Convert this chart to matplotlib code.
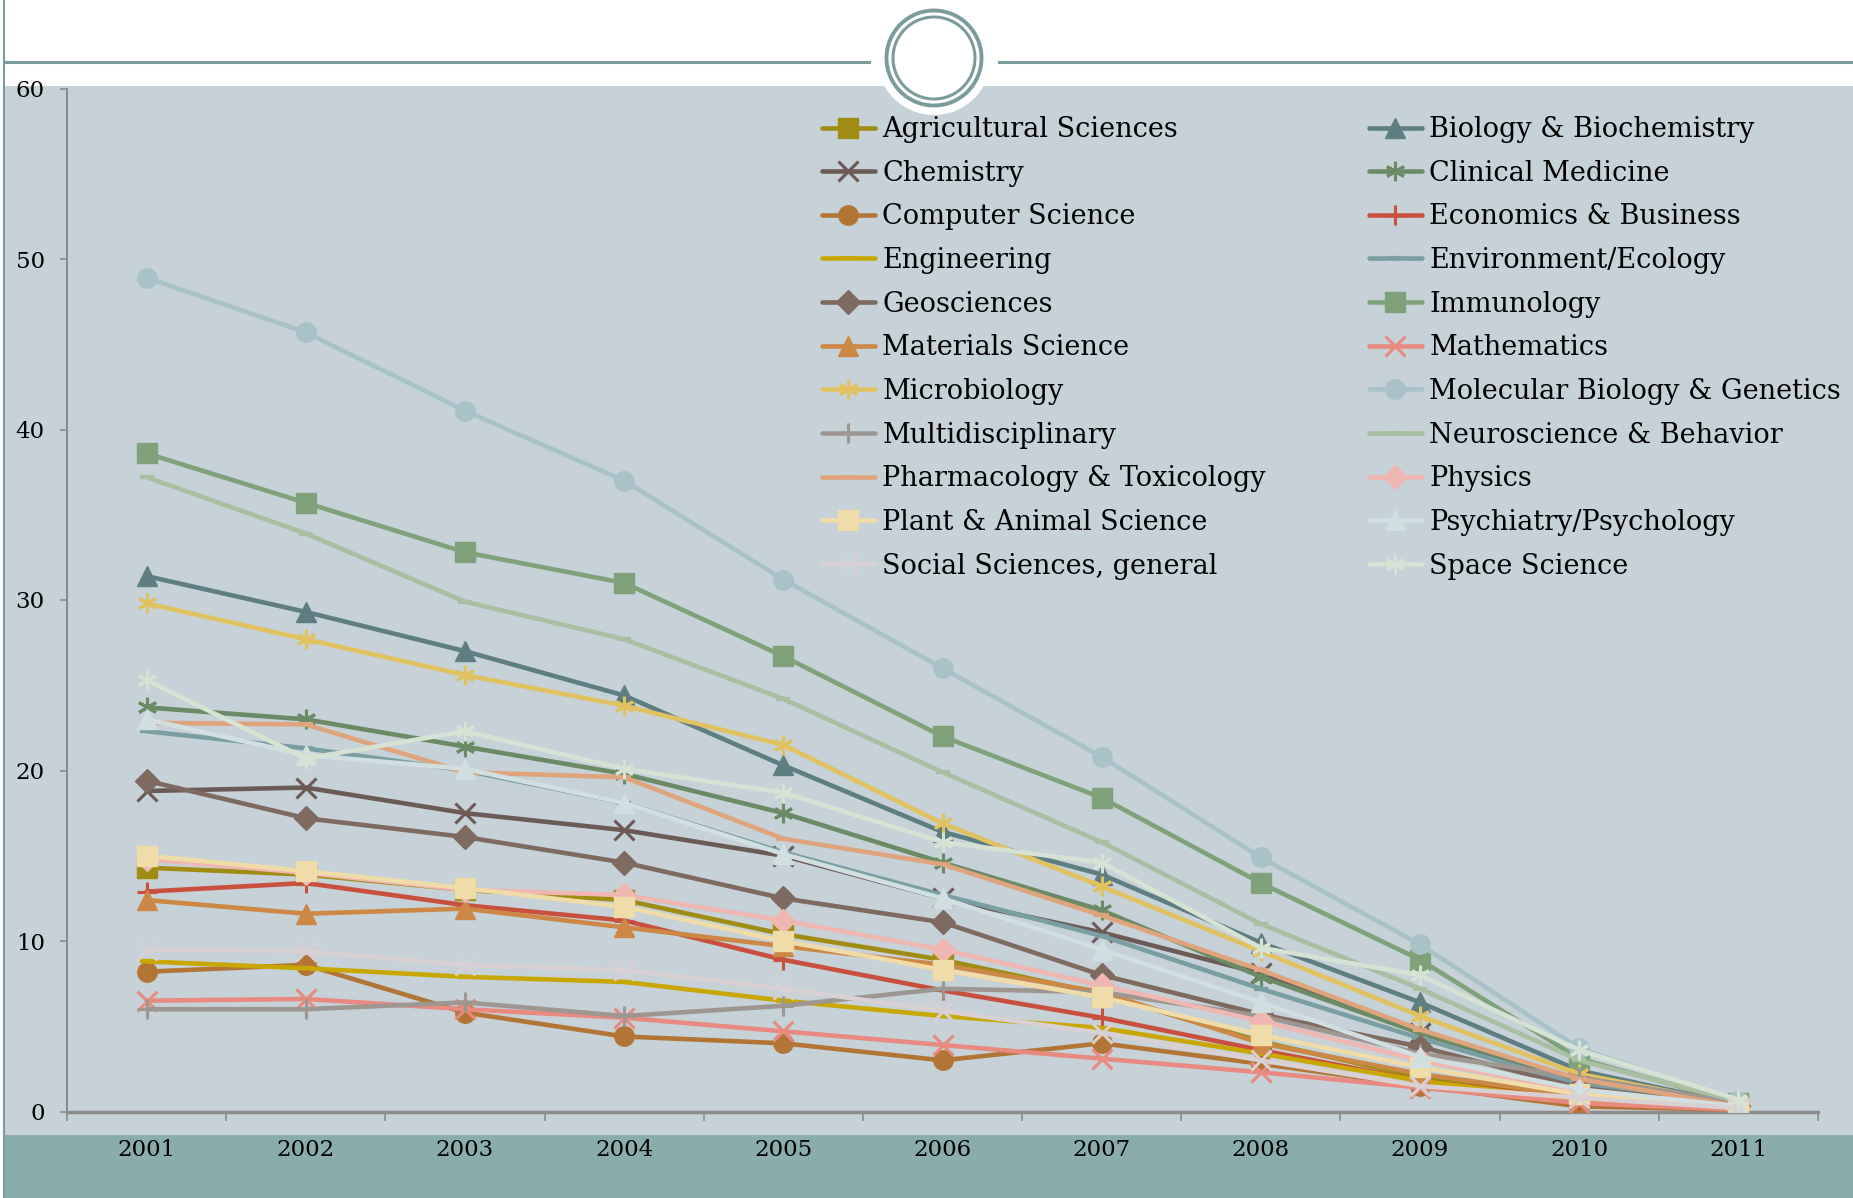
import matplotlib
matplotlib.use('Agg')
import matplotlib.pyplot as plt
from matplotlib.patches import Rectangle, Circle
from matplotlib.lines import Line2D

years = ['2001', '2002', '2003', '2004', '2005', '2006', '2007', '2008', '2009', '2010', '2011']
y_ticks = [0, 10, 20, 30, 40, 50, 60]

agricultural = [14.3, 13.9, 13.0, 12.4, 10.4, 8.9, 6.9, 4.1, 2.0, 0.8, 0.2]
biology = [31.4, 29.3, 27.0, 24.4, 20.3, 16.4, 13.9, 9.9, 6.4, 2.4, 0.4]
chemistry = [18.8, 19.0, 17.5, 16.5, 15.0, 12.5, 10.5, 8.1, 4.6, 1.8, 0.3]
clinical = [23.7, 23.0, 21.4, 19.8, 17.5, 14.6, 11.8, 7.9, 4.6, 1.9, 0.3]
computer = [8.2, 8.6, 5.8, 4.4, 4.0, 3.0, 4.0, 2.8, 1.5, 0.3, 0.1]
economics = [12.9, 13.4, 12.1, 11.2, 8.9, 7.1, 5.5, 3.6, 1.8, 0.7, 0.2]
engineering = [8.8, 8.4, 7.9, 7.6, 6.5, 5.6, 4.9, 3.4, 1.8, 0.6, 0.2]
environment = [22.3, 21.3, 20.0, 18.1, 15.2, 12.7, 10.3, 7.2, 4.3, 1.6, 0.3]
geosciences = [19.4, 17.2, 16.1, 14.6, 12.5, 11.1, 8.0, 5.7, 3.8, 1.4, 0.3]
immunology = [38.6, 35.7, 32.8, 31.0, 26.7, 22.0, 18.4, 13.4, 8.9, 3.1, 0.5]
materials = [12.4, 11.6, 11.9, 10.8, 9.7, 8.6, 7.0, 4.0, 2.2, 0.9, 0.2]
mathematics = [6.5, 6.6, 6.0, 5.5, 4.7, 3.9, 3.1, 2.3, 1.4, 0.5, 0.1]
microbiology = [29.8, 27.7, 25.6, 23.8, 21.5, 16.9, 13.2, 9.4, 5.6, 2.2, 0.4]
molecular = [48.9, 45.7, 41.1, 37.0, 31.2, 26.0, 20.8, 14.9, 9.8, 3.7, 0.6]
multidisciplinary = [6.0, 6.0, 6.4, 5.6, 6.2, 7.2, 7.0, 5.6, 3.4, 2.0, 0.5]
neuroscience = [37.2, 33.9, 29.9, 27.7, 24.2, 19.9, 15.8, 11.0, 7.2, 3.0, 0.6]
pharmacology = [22.8, 22.7, 19.9, 19.6, 16.0, 14.5, 11.5, 8.3, 4.8, 1.9, 0.3]
physics = [14.8, 14.0, 13.0, 12.7, 11.2, 9.5, 7.4, 5.3, 3.0, 1.2, 0.2]
plant = [15.0, 14.1, 13.1, 12.0, 10.0, 8.3, 6.7, 4.5, 2.6, 1.0, 0.2]
psychiatry = [23.0, 20.9, 20.1, 18.1, 15.1, 12.5, 9.5, 6.4, 3.2, 1.3, 0.3]
social = [9.5, 9.4, 8.6, 8.3, 7.2, 5.9, 4.6, 3.0, 1.5, 0.8, 0.2]
space = [25.3, 20.7, 22.3, 20.1, 18.7, 15.8, 14.6, 9.6, 8.0, 3.6, 0.7]

names = ['Agricultural Sciences', 'Biology & Biochemistry', 'Chemistry', 'Clinical Medicine',
         'Computer Science', 'Economics & Business', 'Engineering', 'Environment/Ecology',
         'Geosciences', 'Immunology', 'Materials Science', 'Mathematics', 'Microbiology',
         'Molecular Biology & Genetics', 'Multidisciplinary', 'Neuroscience & Behavior',
         'Pharmacology & Toxicology', 'Physics', 'Plant & Animal Science',
         'Psychiatry/Psychology', 'Social Sciences, general', 'Space Science']
data = [agricultural, biology, chemistry, clinical, computer, economics, engineering,
        environment, geosciences, immunology, materials, mathematics, microbiology,
        molecular, multidisciplinary, neuroscience, pharmacology, physics, plant,
        psychiatry, social, space]

STAR = (6, 2, 0)
styles = [
    ('#A08C12', 's'), ('#5E7E82', '^'), ('#6B5A55', 'x'), ('#6A8B66', STAR),
    ('#B27535', 'o'), ('#C9503E', '+'), ('#C8A800', '_'), ('#7A9FA3', '_'),
    ('#7E6A60', 'D'), ('#7FA27A', 's'), ('#CC8844', '^'), ('#E88A80', 'x'),
    ('#E2C260', STAR), ('#A9C2C8', 'o'), ('#9E9690', '+'), ('#A8BFA2', '_'),
    ('#E0A47C', '_'), ('#F0B6B2', 'D'), ('#F0DCA8', 's'), ('#D2DFE0', '^'),
    ('#D8D0D2', 'x'), ('#D6E2D4', STAR),
]

W, H = 1853, 1198
teal = '#7C9C9C'
fig = plt.figure(figsize=(W / 100, H / 100), dpi=100)
fig.patch.set_facecolor('white')

bg = fig.add_axes([0, 0, 1, 1], zorder=0)
bg.set_xlim(0, W)
bg.set_ylim(H, 0)
bg.axis('off')
bg.add_patch(Rectangle((5, 86), W - 5, 1135 - 86, color='#C6D1D8', lw=0))
bg.add_patch(Rectangle((5, 1135), W - 5, H - 1135, color='#8AACAB', lw=0))
bg.plot([4, 4], [0, H], color=teal, lw=1.5)
bg.plot([5, 869], [62, 62], color=teal, lw=2.2)
bg.plot([999, W], [62, 62], color=teal, lw=2.2)

ax = fig.add_axes([67 / W, (H - 1111.5) / H, (1818 - 67) / W, (1111.5 - 88.5) / H], zorder=1)
ax.patch.set_alpha(0)
x = list(range(len(years)))
handles = []
for i, (name, vals, (col, mk)) in enumerate(zip(names, data, styles)):
    ms = 14
    mew = 1.0
    if mk in ('x', '+', STAR):
        mew = 2.2
    if mk == 'D':
        ms = 12
    if mk == '_':
        ms = 10
        mew = 3
    ln, = ax.plot(x, vals, color=col, lw=3.3, marker=mk, markersize=ms,
                  markeredgewidth=mew, markerfacecolor=col, markeredgecolor=col,
                  label=name, zorder=2 + i * 0.01, solid_capstyle='round')
    handles.append(ln)

ax.set_xlim(-0.5, len(years) - 0.5)
ax.set_ylim(0, 60)
ax.set_yticks(y_ticks)
ax.set_xticks(x)
ax.set_xticklabels(years)
ax.set_xticks([i - 0.5 for i in range(len(years) + 1)], minor=True)
for s in ('top', 'right'):
    ax.spines[s].set_visible(False)
ax.spines['left'].set_color('#8C8C8C')
ax.spines['left'].set_linewidth(1.5)
ax.spines['bottom'].set_color('#8C8C8C')
ax.spines['bottom'].set_linewidth(2.5)
ax.spines['bottom'].set_zorder(0.5)
ax.tick_params(axis='y', direction='out', length=5, width=1.2, color='#8C8C8C', pad=11)
ax.tick_params(axis='x', which='major', length=0, pad=20)
ax.tick_params(axis='x', which='minor', direction='out', length=6.5, width=1.2, color='#8C8C8C')
for lab in ax.get_xticklabels() + ax.get_yticklabels():
    lab.set_fontfamily('DejaVu Serif')
    lab.set_fontsize(16.5)
    lab.set_color('black')

legkw = dict(frameon=False, prop={'family': 'DejaVu Serif', 'size': 19.5},
             handlelength=1.95, handletextpad=0.28, labelspacing=0.615,
             borderpad=0, borderaxespad=0, loc='upper left',
             bbox_transform=fig.transFigure)
leg1 = ax.legend(handles[0::2], [h.get_label() for h in handles[0::2]],
                 bbox_to_anchor=(822 / W, 1 - 116 / H), **legkw)
ax.add_artist(leg1)
leg2 = ax.legend(handles[1::2], [h.get_label() for h in handles[1::2]],
                 bbox_to_anchor=(1369 / W, 1 - 116 / H), **legkw)

top = fig.add_axes([0, 0, 1, 1], zorder=5)
top.set_xlim(0, W)
top.set_ylim(H, 0)
top.axis('off')
top.patch.set_alpha(0)
top.add_patch(Circle((934, 58), 57, facecolor='white', edgecolor='none'))
top.add_patch(Circle((934, 58), 47.5, facecolor='none', edgecolor=teal, lw=2.8))
top.add_patch(Circle((934, 58), 41, facecolor='none', edgecolor=teal, lw=2.2))

fig.savefig('out.png', dpi=100)
